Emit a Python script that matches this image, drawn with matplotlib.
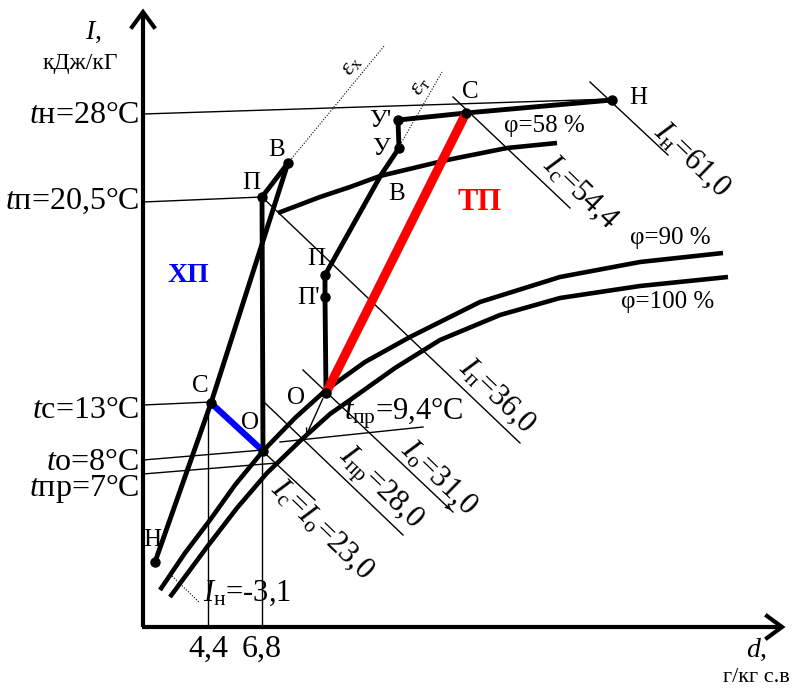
import matplotlib
matplotlib.use("Agg")
import matplotlib.pyplot as plt

plt.rcParams['font.family'] = ['Liberation Serif', 'DejaVu Serif']
plt.rcParams['mathtext.fontset'] = 'custom'
plt.rcParams['mathtext.rm'] = 'Liberation Serif'
plt.rcParams['mathtext.it'] = 'Liberation Serif:italic'

# ---- diagram plane coordinates (d to the right, I/t upward; screen-like units) ----
origin = (143, 627)
x_axis_end = 782
y_axis_end = 12

# isotherm labels on the I axis and their lines
iso_labels = [r"$t$н=28°C", r"$t$п=20,5°C", r"$t$с=13°C", r"$t$о=8°C", r"$t$пр=7°C"]
iso_label_base = [123, 209, 418, 470, 496]
iso_x0 = [143, 143, 143, 143, 143]
iso_y0 = [114, 202, 405, 460, 474]
iso_x1 = [612, 262, 211, 263, 277]
iso_y1 = [99, 197, 402, 450, 463]

# moisture content ticks
d_tick_labels = ["4,4", "6,8"]
d_tick_x = [208, 262]
d_tick_top = [403, 451]

# winter process (ХП): Н, С, О, П, В
winter_names = ["Н", "С", "О", "П", "В"]
winter_x = [155, 211, 263, 262, 288]
winter_y = [562, 403, 451, 197, 163]
winter_lbl_x = [152, 200, 250, 251, 277]
winter_lbl_y = [540, 386, 423, 183, 150]

# summer process (ТП): О, П', П, В, У, У', С, Н
summer_names = ["О", "П'", "П", "В", "У", "У'", "С", "Н"]
summer_x = [326, 325, 325, 381, 399, 398, 466, 612]
summer_y = [393, 297, 275, 175, 148, 120, 113, 100]
summer_lbl_x = [296, 309, 316, 397, 381, 380, 470, 638]
summer_lbl_y = [398, 298, 259, 194, 149, 121, 92, 98]
summer_dot = [True, True, True, False, True, True, True, True]

# relative humidity curves
phi58_x = [278, 320, 350, 380, 447, 507, 557]
phi58_y = [213, 197, 187, 176, 160, 148, 143]
phi90_x = [160, 185, 210, 235, 263, 295, 326, 365, 410, 480, 560, 640, 723]
phi90_y = [590, 553, 520, 485, 451, 418, 390, 362, 337, 302, 277, 262, 253]
phi100_x = [170, 207, 237, 267, 300, 330, 350, 395, 440, 500, 560, 640, 728]
phi100_y = [597, 547, 508, 473, 441, 414, 400, 368, 340, 315, 298, 286, 277]

# isenthalp segments and labels
ienth_labels = [r"$I_{\mathrm{н}}$=61,0", r"$I_{\mathrm{с}}$=54,4", r"$I_{\mathrm{п}}$=36,0",
                r"$I_{\mathrm{о}}$=31,0", r"$I_{\mathrm{пр}}$=28,0",
                r"$I_{\mathrm{с}}$=$I_{\mathrm{о}}$=23,0"]
ienth_x0 = [590, 453, 262, 303, 265, 211]
ienth_y0 = [82, 97, 197, 370, 403, 403]
ienth_x1 = [668, 570, 520, 453, 403, 315]
ienth_y1 = [155, 208, 443, 512, 535, 500]
ienth_lx = [692, 580, 497, 439, 380, 322]
ienth_ly = [160, 193, 396, 478, 489, 530]

# process-direction (epsilon) rays
eps_labels = [r"$\varepsilon_{\mathrm{х}}$", r"$\varepsilon_{\mathrm{т}}$"]
eps_x0 = [288, 400]
eps_y0 = [163, 145]
eps_x1 = [385, 442]
eps_y1 = [45, 72]
eps_lx = [352, 421]
eps_ly = [66, 87]

fig = plt.figure(figsize=(7.92, 6.93), dpi=100)
ax = fig.add_axes([0, 0, 1, 1])
ax.set_xlim(0, 792)
ax.set_ylim(693, 0)
ax.axis('off')

K = 'black'
thin = 1.0

# axes with open arrowheads
ax.plot([origin[0], origin[0]], [origin[1], y_axis_end + 2], color=K, lw=3, solid_capstyle='butt')
ax.plot([origin[0] - 1.5, x_axis_end - 2], [origin[1], origin[1]], color=K, lw=3, solid_capstyle='butt')
ax.plot([origin[0] - 11, origin[0], origin[0] + 11], [y_axis_end + 15, y_axis_end, y_axis_end + 15],
        color=K, lw=3, solid_joinstyle='miter')
ax.plot([x_axis_end - 15, x_axis_end, x_axis_end - 15], [origin[1] - 11, origin[1], origin[1] + 11],
        color=K, lw=3, solid_joinstyle='miter')

ax.text(93, 32, r"$I$,", fontsize=20, ha='center', va='center')
ax.text(80, 64, "кДж/кГ", fontsize=17, ha='center', va='center')
ax.text(757, 650, r"$d$,", fontsize=20, ha='center', va='center')
ax.text(790, 677, "г/кг с.в", fontsize=16, ha='right', va='center')

# isotherms
for lab, lb, xa, ya, xb, yb in zip(iso_labels, iso_label_base, iso_x0, iso_y0, iso_x1, iso_y1):
    ax.plot([xa, xb], [ya, yb], color=K, lw=thin)
    ax.text(139, lb, lab, fontsize=23, ha='right', va='baseline')

# t_пр = 9,4 line and arrow from О'
ax.plot([280, 423], [442, 427], color=K, lw=thin)
ax.annotate("", xy=(305, 438), xytext=(324, 396),
            arrowprops=dict(arrowstyle='->', color=K, lw=thin, mutation_scale=10))
ax.text(404, 413, r"$t_{\mathrm{пр}}$=9,4°C", fontsize=22, ha='center', va='center')

# d ticks
for lab, x, top in zip(d_tick_labels, d_tick_x, d_tick_top):
    ax.plot([x, x], [top, origin[1]], color=K, lw=thin)
    ax.text(x, 649, lab, fontsize=23, ha='center', va='center')

# isenthalps
for lab, xa, ya, xb, yb, lx, ly in zip(ienth_labels, ienth_x0, ienth_y0, ienth_x1, ienth_y1, ienth_lx, ienth_ly):
    ax.plot([xa, xb], [ya, yb], color=K, lw=thin)
    ax.text(lx, ly, lab, fontsize=22, ha='center', va='center', rotation=-44, rotation_mode='anchor')
ax.annotate("", xy=(ienth_x1[3], ienth_y1[3]), xytext=(ienth_x1[3] - 8, ienth_y1[3] - 8),
            arrowprops=dict(arrowstyle='->', color=K, lw=thin, mutation_scale=8))
ax.plot([172, 200], [576, 603], color=K, lw=0.8, ls=(0, (1, 1.5)))
ax.text(247, 593, r"$I_{\mathrm{н}}$=-3,1", fontsize=22, ha='center', va='center')

# epsilon rays
for lab, xa, ya, xb, yb, lx, ly in zip(eps_labels, eps_x0, eps_y0, eps_x1, eps_y1, eps_lx, eps_ly):
    ax.plot([xa, xb], [ya, yb], color=K, lw=0.8, ls=(0, (1, 1.5)))
    ax.text(lx, ly, lab, fontsize=17, ha='center', va='center', rotation=55, rotation_mode='anchor')

# humidity curves
ax.plot(phi58_x, phi58_y, color=K, lw=3.3, solid_capstyle='butt')
ax.plot(phi90_x, phi90_y, color=K, lw=3.3, solid_capstyle='butt')
ax.plot(phi100_x, phi100_y, color=K, lw=3.3, solid_capstyle='butt')
ax.text(544, 126, "φ=58 %", fontsize=18, ha='center', va='center')
ax.text(670, 238, "φ=90 %", fontsize=18, ha='center', va='center')
ax.text(668, 302, "φ=100 %", fontsize=18, ha='center', va='center')

# winter process
wN, wC, wO, wP, wB = range(5)
ax.plot([winter_x[wN], winter_x[wC], winter_x[wB]], [winter_y[wN], winter_y[wC], winter_y[wB]],
        color=K, lw=3.5, solid_capstyle='round')
ax.plot([winter_x[wP], winter_x[wB]], [winter_y[wP], winter_y[wB]], color=K, lw=3.5, solid_capstyle='round')
ax.plot([winter_x[wP], winter_x[wO]], [winter_y[wP], winter_y[wO]], color=K, lw=3.5, solid_capstyle='round')
ax.plot([winter_x[wC], winter_x[wO]], [winter_y[wC], winter_y[wO]], color='#0000ff', lw=4.5, solid_capstyle='butt')
ax.plot(winter_x, winter_y, ls='none', marker='o', ms=6.5, color=K)
for n, lx, ly in zip(winter_names, winter_lbl_x, winter_lbl_y):
    ax.text(lx, ly, n, fontsize=18, ha='center', va='center')
ax.text(188, 276, "ХП", fontsize=20, fontweight='bold', color='#0000ff', ha='center', va='center')

# summer process
ax.plot(summer_x, summer_y, color=K, lw=3.5, solid_capstyle='round', solid_joinstyle='round')
ax.plot([summer_x[0], summer_x[6]], [summer_y[0], summer_y[6]], color='#ff0000', lw=6.5, solid_capstyle='butt')
for x, y, dot in zip(summer_x, summer_y, summer_dot):
    if dot:
        ax.plot(x, y, marker='o', ms=6.5, color=K)
for n, lx, ly in zip(summer_names, summer_lbl_x, summer_lbl_y):
    ax.text(lx, ly, n, fontsize=18, ha='center', va='center')
ax.text(480, 203, "ТП", fontsize=22, fontweight='bold', color='#ff0000', ha='center', va='center')

fig.savefig("out.png", dpi=100)
